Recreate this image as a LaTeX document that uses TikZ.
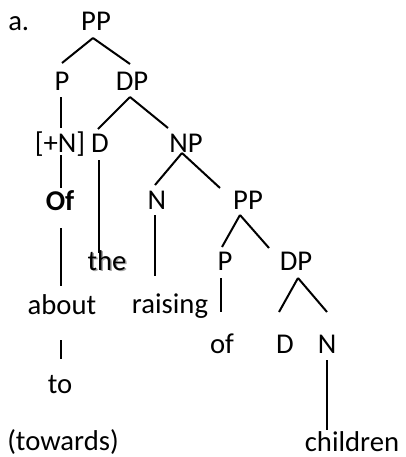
\documentclass[tikz,border=0pt]{standalone}
\usepackage{fontspec}
\setmainfont{Carlito}
\begin{document}
\begin{tikzpicture}[x=0.75pt,y=-0.75pt,
  lbl/.style={anchor=base,inner sep=0pt,font=\fontsize{21.5}{25}\selectfont},
  br/.style={line width=1.5pt,black}]
\useasboundingbox (0,0) rectangle (405,457);
% labels
\node[lbl,anchor=base west] (a) at (8,30) {a.};
\node[lbl] (PP) at (96,30) {PP};
\node[lbl] (P) at (62,90) {P};
\node[lbl] (DP) at (132,90) {DP};
\node[lbl] (plusN) at (60,152) {[+N]};
\node[lbl] (D) at (100,152) {D};
\node[lbl] (NP) at (186,152) {NP};
\node[lbl] (Of) at (60,210) {\bfseries Of};
\node[lbl] (N) at (157,209) {N};
\node[lbl] (PPb) at (248,209) {PP};
\node[lbl,text=black!35] (theshadow) at (108.5,271.5) {the};
\node[lbl] (the) at (107,270) {the};
\node[lbl] (about) at (62,314) {about};
\node[lbl] (raising) at (170,313) {raising};
\node[lbl] (Pb) at (225,270) {P};
\node[lbl] (DPb) at (296,270) {DP};
\node[lbl] (of) at (222,353) {of};
\node[lbl] (Db) at (285,353) {D};
\node[lbl] (Nb) at (327,353) {N};
\node[lbl] (to) at (60,393) {to};
\node[lbl] (towards) at (63,450) {(towards)};
\node[lbl] (children) at (352,451) {children};
% branches
\draw[br] ([shift={(-3,8)}]PP.base) -- ([shift={(0,-27)}]P.base);
\draw[br] ([shift={(-3,8)}]PP.base) -- ([shift={(-2,-26)}]DP.base);
\draw[br] ([shift={(-1,7)}]P.base) -- ([shift={(1,-24)}]plusN.base);
\draw[br] ([shift={(-2,7)}]DP.base) -- ([shift={(-2,-23)}]D.base);
\draw[br] ([shift={(-2,7)}]DP.base) -- ([shift={(-18,-24)}]NP.base);
\draw[br] ([shift={(1,3)}]plusN.base) -- ([shift={(1,-22)}]Of.base);
\draw[br] ([shift={(-1,8)}]D.base) -- ([shift={(-8,-17)}]the.base);
\draw[br] ([shift={(-4,1)}]NP.base) -- ([shift={(-2,-24)}]N.base);
\draw[br] ([shift={(-4,1)}]NP.base) -- ([shift={(-28,-21)}]PPb.base);
\draw[br] ([shift={(1,18)}]Of.base) -- ([shift={(-1,-28)}]about.base);
\draw[br] ([shift={(-2,6)}]N.base) -- ([shift={(-15,-37)}]raising.base);
\draw[br] ([shift={(-8,6)}]PPb.base) -- ([shift={(-3,-23)}]Pb.base);
\draw[br] ([shift={(-8,6)}]PPb.base) -- ([shift={(-27,-22)}]DPb.base);
\draw[br] ([shift={(-4,8)}]Pb.base) -- ([shift={(-1,-41)}]of.base);
\draw[br] ([shift={(2,8)}]DPb.base) -- ([shift={(-6,-41)}]Db.base);
\draw[br] ([shift={(2,8)}]DPb.base) -- ([shift={(0,-41)}]Nb.base);
\draw[br] ([shift={(-1,26)}]about.base) -- ([shift={(1,-34)}]to.base);
\draw[br] ([shift={(0,7)}]Nb.base) -- ([shift={(-25,-21)}]children.base);
\end{tikzpicture}
\end{document}
